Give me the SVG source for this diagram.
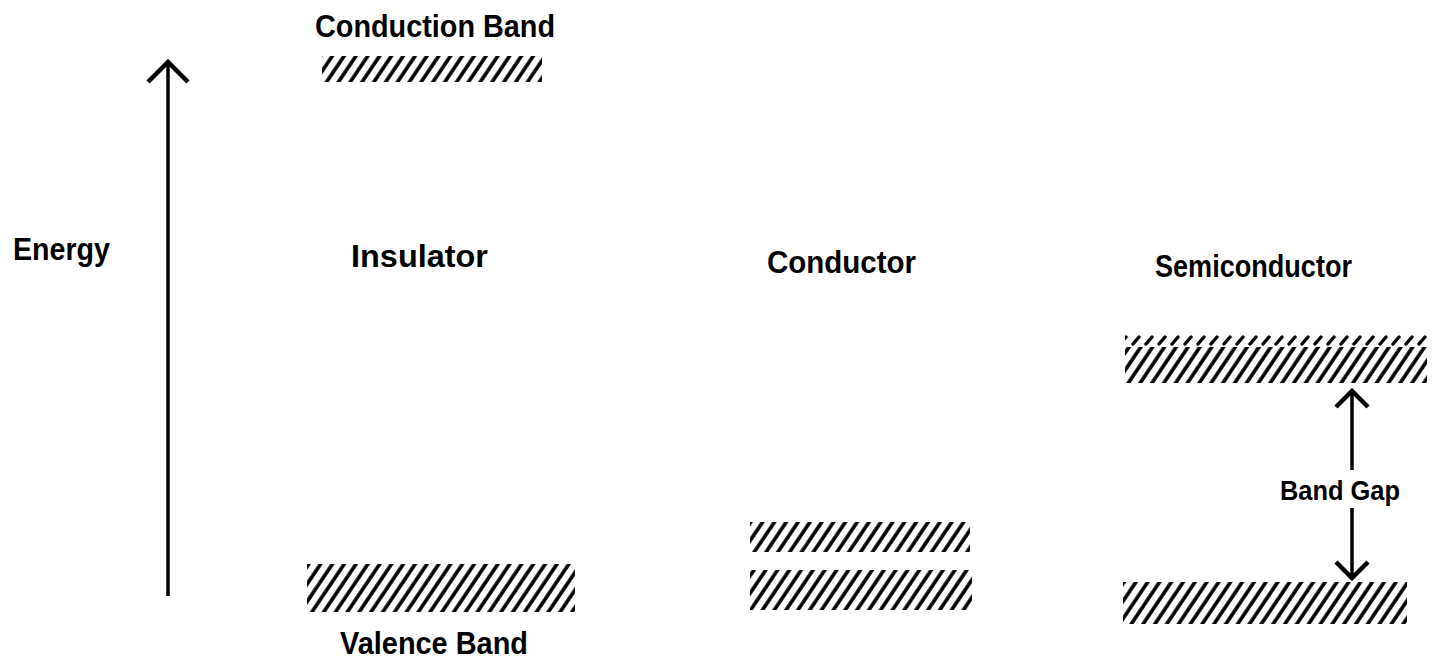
<svg xmlns="http://www.w3.org/2000/svg" width="1435" height="670" viewBox="0 0 1435 670">
<style>
.lbl{font-family:"Liberation Sans","DejaVu Sans",sans-serif;font-weight:bold;font-size:32px;fill:#000}
.sm{font-size:27px}
.band{fill:url(#hatch)}
.ax{stroke:#000;fill:none;stroke-width:3.5}
</style>
<defs>
<pattern id="hatch" patternUnits="userSpaceOnUse" width="9.8" height="20" patternTransform="rotate(34)">
<line x1="3" y1="-5" x2="3" y2="25" stroke="#000" stroke-width="3.6"/>
</pattern>
<pattern id="dash" patternUnits="userSpaceOnUse" width="13" height="12" patternTransform="translate(0,335)">
<line x1="2" y1="9" x2="8" y2="2" stroke="#000" stroke-width="3.4" stroke-linecap="round"/>
</pattern>
<marker id="bigHead" markerUnits="userSpaceOnUse" viewBox="-25 -25 50 50" markerWidth="50" markerHeight="50" refX="0" refY="0" orient="auto" overflow="visible">
<path d="M-20,-20 L0,0 L-20,20" fill="none" stroke="#000" stroke-width="4.5"/>
</marker>
<marker id="smHead" markerUnits="userSpaceOnUse" viewBox="-25 -25 50 50" markerWidth="50" markerHeight="50" refX="0" refY="0" orient="auto" overflow="visible">
<path d="M-16,-16 L0,0 L-16,16" fill="none" stroke="#000" stroke-width="4.5"/>
</marker>
</defs>
<rect width="1435" height="670" fill="#fff"/>

<g id="connectors">
<line class="ax" x1="168" y1="596" x2="168" y2="62" marker-end="url(#bigHead)"/>
<line class="ax" x1="1352" y1="470" x2="1352" y2="391" marker-end="url(#smHead)"/>
<line class="ax" x1="1352" y1="508" x2="1352" y2="578" marker-end="url(#smHead)"/>
</g>

<g id="energy-label"><text class="lbl" x="13" y="260" textLength="97" lengthAdjust="spacingAndGlyphs">Energy</text></g>

<g id="insulator">
<text class="lbl" x="315" y="37" textLength="240" lengthAdjust="spacingAndGlyphs">Conduction Band</text>
<rect class="band" x="322" y="56" width="220" height="26"/>
<text class="lbl" x="351" y="267" textLength="137" lengthAdjust="spacingAndGlyphs">Insulator</text>
<rect class="band" x="307" y="564" width="268" height="48"/>
<text class="lbl" x="340" y="654" textLength="188" lengthAdjust="spacingAndGlyphs">Valence Band</text>
</g>

<g id="conductor">
<text class="lbl" x="767" y="273" textLength="149" lengthAdjust="spacingAndGlyphs">Conductor</text>
<rect class="band" x="750" y="522" width="220" height="30"/>
<rect class="band" x="750" y="570" width="222" height="40"/>
</g>

<g id="semiconductor">
<text class="lbl" x="1155" y="277" textLength="197" lengthAdjust="spacingAndGlyphs">Semiconductor</text>
<rect fill="url(#dash)" x="1125" y="335" width="302" height="11"/>
<rect class="band" x="1125" y="347" width="302" height="36"/>
<text class="lbl sm" x="1280" y="500" textLength="120" lengthAdjust="spacingAndGlyphs">Band Gap</text>
<rect class="band" x="1123" y="582" width="284" height="42"/>
</g>
</svg>
